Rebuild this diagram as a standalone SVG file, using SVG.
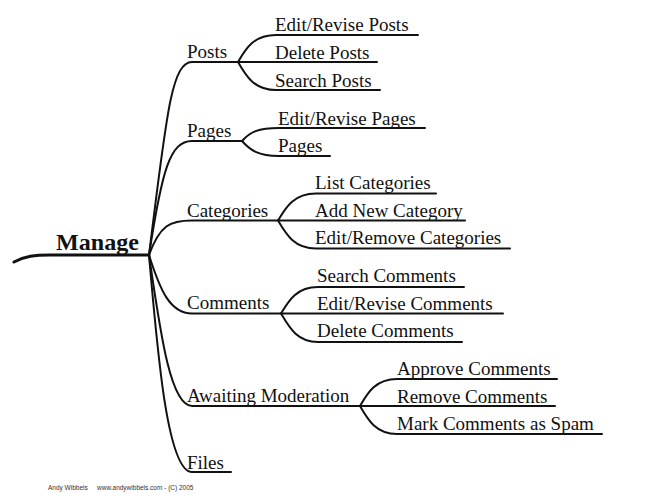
<svg xmlns="http://www.w3.org/2000/svg" width="650" height="502" viewBox="0 0 650 502">
<style>
  .ln{fill:none;stroke:#111;stroke-width:2;stroke-linecap:round}
  .t{font-family:"Liberation Serif","Times New Roman",serif;font-size:19px;fill:#111}
  .root{font-family:"Liberation Serif","Times New Roman",serif;font-size:23px;font-weight:bold;fill:#111}
  .foot{font-family:"Liberation Sans",Arial,sans-serif;font-size:6.5px;fill:#333}
</style>
<rect width="650" height="502" fill="#fff"/>
<g id="connectors">
  <path class="ln" style="stroke-width:3" d="M14,262 C25,256 35,255 50,255 L149,255"/>
  <path class="ln" d="M149,255 C166,120 171,62 192,62 L377,62"/>
  <path class="ln" d="M149,255 C162,170 170,141 192,141 L242,141"/>
  <path class="ln" d="M149,255 C160,225 170,220.5 192,220.5 L465,220.5"/>
  <path class="ln" d="M149,255 C160,290 170,313.5 192,313.5 L503,313.5"/>
  <path class="ln" d="M149,255 C160,330 170,406 192,406 L555,406"/>
  <path class="ln" d="M149,255 C158,360 168,472 192,472 L231,472"/>
  <path class="ln" d="M238,62 C246,48 254,35 276,35 L418,35"/>
  <path class="ln" d="M238,62 C246,76 254,90 276,90 L380,90"/>
  <path class="ln" d="M242,141 C250,132 258,128 279,128 L425,128"/>
  <path class="ln" d="M242,141 C250,150 258,156 279,156 L330,156"/>
  <path class="ln" d="M278,220.5 C286,207 294,193.5 316,193.5 L436,193.5"/>
  <path class="ln" d="M278,220.5 C286,234 294,248.5 316,248.5 L510,248.5"/>
  <path class="ln" d="M281,313.5 C289,300 297,287 318,287 L464,287"/>
  <path class="ln" d="M281,313.5 C289,327 297,342 318,342 L462,342"/>
  <path class="ln" d="M360,406 C368,392 376,379 397,379 L557,379"/>
  <path class="ln" d="M360,406 C368,420 376,434 397,434 L602,434"/>
</g>
<g id="manage"><text class="root" x="56" y="250" textLength="83" lengthAdjust="spacingAndGlyphs">Manage</text></g>
<g id="posts"><text class="t" x="187" y="58">Posts</text></g>
<g id="edit-posts"><text class="t" x="275" y="31">Edit/Revise Posts</text></g>
<g id="delete-posts"><text class="t" x="275" y="59">Delete Posts</text></g>
<g id="search-posts"><text class="t" x="275" y="87">Search Posts</text></g>
<g id="pages"><text class="t" x="187" y="137">Pages</text></g>
<g id="edit-pages"><text class="t" x="278" y="125">Edit/Revise Pages</text></g>
<g id="pages-sub"><text class="t" x="278" y="152">Pages</text></g>
<g id="categories"><text class="t" x="187" y="217">Categories</text></g>
<g id="list-categories"><text class="t" x="315" y="189">List Categories</text></g>
<g id="add-category"><text class="t" x="315" y="217">Add New Category</text></g>
<g id="edit-categories"><text class="t" x="315" y="244">Edit/Remove Categories</text></g>
<g id="comments"><text class="t" x="187" y="309">Comments</text></g>
<g id="search-comments"><text class="t" x="317" y="282">Search Comments</text></g>
<g id="edit-comments"><text class="t" x="317" y="310">Edit/Revise Comments</text></g>
<g id="delete-comments"><text class="t" x="317" y="337">Delete Comments</text></g>
<g id="awaiting"><text class="t" x="187" y="402">Awaiting Moderation</text></g>
<g id="approve-comments"><text class="t" x="397" y="375">Approve Comments</text></g>
<g id="remove-comments"><text class="t" x="397" y="403">Remove Comments</text></g>
<g id="spam-comments"><text class="t" x="397" y="430">Mark Comments as Spam</text></g>
<g id="files"><text class="t" x="187" y="469">Files</text></g>
<g id="footer">
  <text class="foot" x="48" y="490">Andy Wibbels</text>
  <text class="foot" x="97" y="490">www.andywibbels.com - (C) 2005</text>
</g>
</svg>
